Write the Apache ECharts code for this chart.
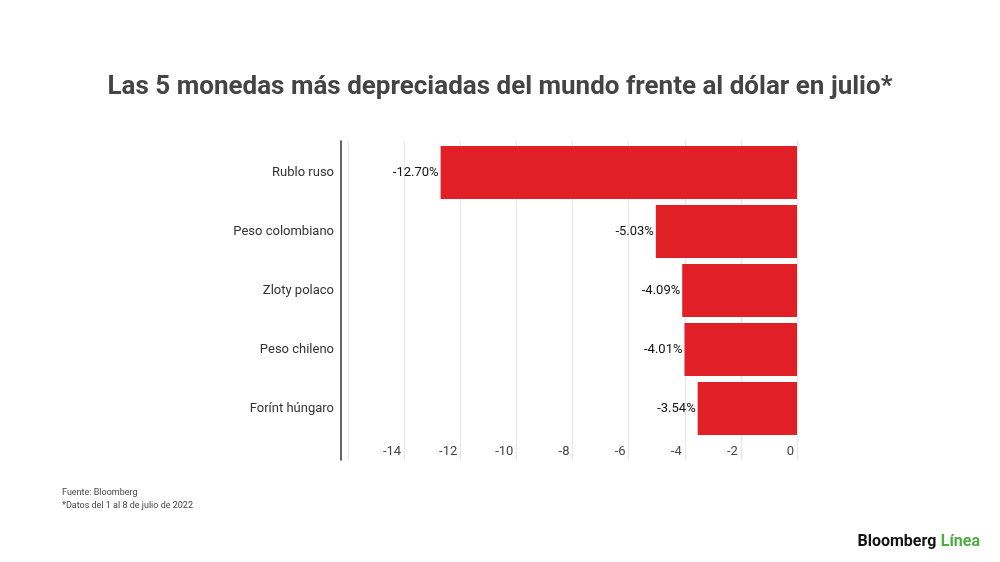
<!DOCTYPE html>
<html>
<head>
<meta charset="utf-8">
<script src="https://cdn.jsdelivr.net/npm/echarts@6/dist/echarts.min.js"></script>
<style>
  html, body { margin: 0; padding: 0; background: #fff; }
  #main { width: 1000px; height: 562px; }
</style>
</head>
<body>
<div id="main"></div>
<script>
var myChart = echarts.init(document.getElementById('main'));

// datos (julio 2022, variación frente al dólar)
var monedas = ['Rublo ruso', 'Peso colombiano', 'Zloty polaco', 'Peso chileno', 'Forínt húngaro'];
var variacion = [-12.70, -5.03, -4.09, -4.01, -3.54];
var ticks = [-16, -14, -12, -10, -8, -6, -4, -2, 0];

var font = 'Roboto, "Noto Sans", sans-serif';

option = {
  backgroundColor: '#fff',
  textStyle: { fontFamily: font },
  title: [
    {
      text: 'Las 5 monedas más depreciadas del mundo frente al dólar en julio*',
      left: 'center',
      top: 74,
      padding: 0,
      textStyle: { fontSize: 26, fontWeight: 'bold', color: '#444', fontFamily: font }
    },
    {
      text: 'Fuente: Bloomberg\n*Datos del 1 al 8 de julio de 2022',
      left: 62,
      top: 486,
      padding: 0,
      textStyle: { fontSize: 9, fontWeight: 'normal', color: '#444', lineHeight: 13, fontFamily: font }
    },
    {
      text: '{a|Bloomberg} {b|Línea}',
      right: 20,
      top: 533,
      padding: 0,
      textStyle: {
        rich: {
          a: { fontSize: 16, fontWeight: 'bold', color: '#111', fontFamily: font },
          b: { fontSize: 16, fontWeight: 'bold', color: '#4cae3f', fontFamily: font }
        }
      }
    }
  ],
  grid: [
    { left: 348, right: 203, top: 141, bottom: 102 },
    { left: 348, right: 203, top: 143, bottom: 124 }
  ],
  xAxis: [
    {
      gridIndex: 0,
      type: 'value',
      min: ticks[0],
      max: ticks[ticks.length - 1],
      interval: 2,
      axisLine: { show: false },
      axisTick: { show: false },
      splitLine: { show: true, lineStyle: { color: '#e6e6e6', width: 1 } },
      axisLabel: {
        inside: true,
        margin: 2,
        align: 'right',
        padding: [0, 3, 0, 0],
        fontSize: 13,
        color: '#444',
        formatter: function (v) { return v === ticks[0] ? '' : String(v); }
      }
    },
    {
      gridIndex: 1,
      type: 'value',
      min: ticks[0],
      max: ticks[ticks.length - 1],
      show: false
    }
  ],
  yAxis: [
    {
      gridIndex: 0,
      type: 'value',
      position: 'left',
      offset: 7,
      axisLine: { show: true, onZero: false, lineStyle: { color: '#333', width: 1.5 } },
      axisTick: { show: false },
      axisLabel: { show: false },
      splitLine: { show: false }
    },
    {
      gridIndex: 1,
      type: 'category',
      data: monedas,
      inverse: true,
      axisLine: { show: false },
      axisTick: { show: false },
      axisLabel: { margin: 14, fontSize: 13, color: '#333' }
    }
  ],
  series: [
    {
      type: 'bar',
      xAxisIndex: 1,
      yAxisIndex: 1,
      data: variacion,
      barCategoryGap: '10%',
      itemStyle: { color: '#e01f26' },
      label: {
        show: true,
        position: 'left',
        distance: 2,
        fontSize: 13,
        color: '#111',
        formatter: function (p) { return p.value.toFixed(2) + '%'; }
      }
    }
  ]
};

myChart.setOption(option);
</script>
</body>
</html>
